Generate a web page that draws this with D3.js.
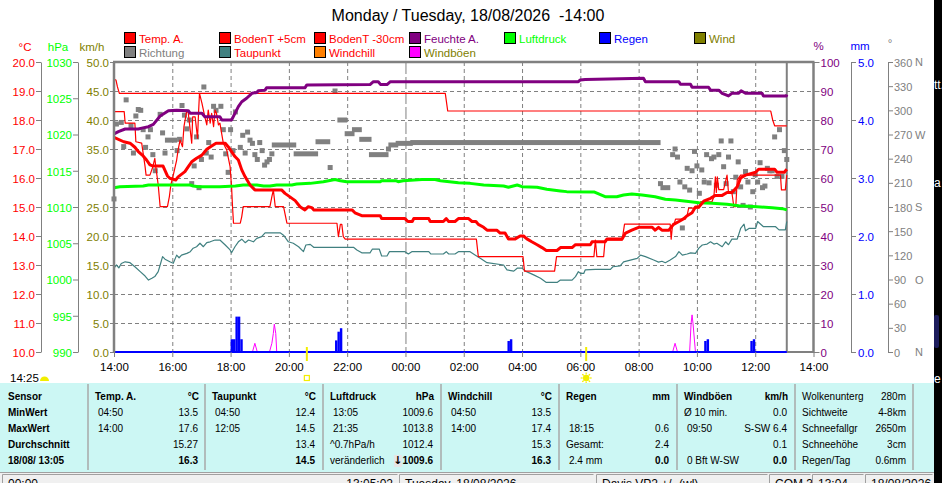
<!DOCTYPE html>
<html><head><meta charset="utf-8">
<script src="https://cdn.jsdelivr.net/npm/d3@7"></script>
<style>
html,body{margin:0;padding:0;background:#fff;overflow:hidden}
svg{display:block}
</style></head><body>
<svg id="c" width="942" height="483"></svg>
<script>
// ---------------- DATA ----------------
const titleText = "Monday / Tuesday, 18/08/2026  -14:00";
const ticksC = [10,11,12,13,14,15,16,17,18,19,20];
const ticksP = [990,995,1000,1005,1010,1015,1020,1025,1030];
const ticksK = [0,5,10,15,20,25,30,35,40,45,50];
const ticksH = [0,10,20,30,40,50,60,70,80,90,100];
const ticksR = [0,1,2,3,4,5];
const ticksD = [0,30,60,90,120,150,180,210,240,270,300,330,360];
const compass = [[0,"N"],[90,"O"],[180,"S"],[270,"W"],[360,"N"]];
const unitsLeft = ["°C","hPa","km/h"];
const unitsRight = ["%","mm","°"];
const legendRow1 = ["Temp. A.","BodenT +5cm","BodenT -30cm","Feuchte A.","Luftdruck","Regen","Wind"];
const legendRow2 = ["Richtung","Taupunkt","Windchill","Windböen"];

const tempA = [["14:00",17.4],["14:20",17.25],["14:33",17.2],["14:43",17.06],["14:50",16.91],["15:00",16.76],["15:07",16.62],["15:14",16.45],["15:21",16.41],["15:41",16.41],["15:50",16.07],["15:55",15.99],["16:07",15.93],["16:12",16.04],["16:26",16.22],["16:33",16.39],["16:40",16.56],["16:50",16.68],["17:01",16.79],["17:11",16.99],["17:21",17.1],["17:30",17.2],["17:49",17.2],["17:55",17.08],["18:02",16.91],["18:09",16.74],["18:16",16.62],["18:23",16.28],["18:30",16.04],["18:40",15.76],["18:50",15.59],["19:45",15.59],["19:52",15.47],["20:13",15.22],["20:23",15.01],["20:33",14.9],["20:40",15.01],["20:47",14.98],["20:51",14.9],["22:10",14.9],["22:16",14.8],["22:30",14.7],["23:08",14.7],["23:11",14.6],["23:59",14.6],["00:05",14.5],["00:14",14.5],["00:17",14.6],["00:48",14.6],["00:51",14.5],["01:18",14.5],["01:24",14.6],["01:29",14.5],["01:42",14.5],["01:49",14.6],["02:10",14.6],["02:17",14.5],["02:25",14.5],["02:30",14.4],["02:41",14.3],["02:48",14.2],["03:08",14.2],["03:15",14.1],["03:25",14.1],["03:32",13.9],["03:46",13.9],["03:56",14.0],["04:03",14.0],["04:10",13.9],["04:20",13.8],["04:31",13.7],["04:41",13.6],["04:50",13.5],["05:12",13.5],["05:19",13.6],["05:43",13.6],["05:50",13.7],["06:21",13.7],["06:24",13.8],["06:51",13.8],["06:55",13.9],["07:26",13.9],["07:33",14.1],["07:46",14.2],["08:00",14.3],["08:28",14.3],["08:34",14.2],["08:41",14.3],["08:48",14.2],["09:02",14.2],["09:12",14.4],["09:23",14.5],["09:33",14.6],["09:40",14.7],["09:50",14.8],["09:57",15.0],["10:04",15.0],["10:14",15.2],["10:28",15.3],["10:38",15.4],["10:52",15.4],["11:02",15.5],["11:12",15.5],["11:23",15.7],["11:30",16.0],["11:40",16.1],["12:01",16.2],["12:07",16.3],["12:40",16.3],["12:45",16.2],["13:00",16.2],["13:05",16.3]];

const bodenT5 = [["14:00",18.29],["14:21",18.29],["14:23",17.89],["14:43",17.89],["14:45",17.25],["14:57",17.2],["15:04",16.39],["15:06",16.1],["15:14",16.1],["15:20",16.39],["15:24",16.68],["15:26",16.39],["15:31",15.76],["15:35",15.01],["15:50",15.01],["15:54",15.36],["15:57",15.76],["16:02",16.1],["16:09",16.62],["16:12",16.97],["16:16",17.31],["16:21",17.08],["16:24",17.77],["16:30",18.34],["16:33",18.23],["16:40",17.2],["16:42",18.11],["16:47",18.11],["16:52",17.37],["16:54",18.23],["16:56",18.92],["17:01",18.58],["17:07",18.11],["17:11",17.83],["17:14",18.34],["17:18",17.89],["17:21",18.23],["17:25",17.77],["17:28",18.34],["17:31",18.23],["17:35",17.83],["17:38",17.89],["17:45",17.2],["17:52",16.97],["17:59",16.39],["18:02",15.7],["18:04",15.01],["18:06",14.44],["18:20",14.44],["18:23",14.67],["18:26",15.01],["19:21",15.01],["19:25",15.36],["19:28",15.59],["19:32",15.01],["19:49",15.01],["19:56",14.44],["21:39",14.44],["21:42",13.98],["21:46",14.4],["21:49",14.4],["21:52",13.98],["21:56",13.89],["02:26",13.89],["02:30",13.29],["04:02",13.29],["04:05",12.79],["05:07",12.79],["05:11",13.29],["06:28",13.29],["06:31",13.86],["06:34",13.29],["06:48",13.29],["06:51",13.86],["07:26",13.86],["07:31",14.41],["09:05",14.41],["09:07",13.89],["09:10",14.41],["09:13",14.41],["09:16",14.58],["09:36",14.58],["09:40",14.72],["09:43",14.96],["10:04",14.96],["10:07",15.18],["10:31",15.18],["10:35",15.36],["10:38",16.04],["10:40",15.5],["10:42",16.04],["10:45",15.6],["10:55",15.6],["11:02",16.1],["11:05",15.5],["11:12",15.5],["11:16",15.01],["11:20",15.01],["11:23",15.93],["11:30",16.1],["12:52",16.1],["12:54",15.59],["13:02",15.59],["13:05",16.1]];

const bodenT30 = [["14:00",19.4],["14:04",19.38],["14:07",19.15],["14:11",18.92],["01:22",18.92],["01:27",18.31],["12:32",18.31],["12:36",18.0],["12:40",17.8],["13:05",17.8]];

const humidity = [["14:00",75.2],["14:09",76.0],["14:23",76.9],["14:50",76.9],["14:57",77.2],["15:11",77.7],["15:21",78.5],["15:35",81.4],["15:52",83.2],["16:09",83.4],["16:33",83.2],["16:37",82.3],["17:01",82.3],["17:07",81.1],["17:38",81.1],["17:42",80.0],["18:02",80.0],["18:09",82.3],["18:16",84.6],["18:23",86.3],["18:33",87.5],["18:44",89.2],["18:54",89.5],["18:57",90.1],["19:11",90.3],["19:14",91.1],["20:33",91.1],["20:37",92.1],["22:47",92.2],["22:54",93.2],["23:04",93.2],["23:09",92.2],["23:22",92.2],["23:29",93.2],["05:56",93.2],["06:00",93.8],["06:10",94.0],["08:10",94.4],["08:14",93.2],["09:23",93.2],["09:26",92.3],["09:47",92.3],["09:50",91.3],["10:24",91.3],["10:28",90.3],["10:45",90.3],["10:52",89.2],["11:05",88.3],["11:12",89.2],["11:26",89.2],["11:31",90.1],["11:40",89.2],["12:14",89.2],["12:17",88.3],["13:04",88.3],["13:05",88.8]];

const pressure = [["14:00",1012.66],["14:12",1012.8],["15:00",1012.9],["15:11",1013.03],["16:37",1013.03],["16:43",1012.9],["16:54",1012.8],["17:38",1012.8],["18:10",1012.9],["18:26",1013.03],["18:54",1013.03],["19:08",1012.9],["19:21",1012.9],["19:35",1013.03],["20:06",1013.03],["20:16",1013.17],["20:44",1013.26],["21:11",1013.49],["21:35",1013.8],["21:46",1013.63],["21:59",1013.49],["23:08",1013.49],["23:11",1013.63],["23:40",1013.63],["23:45",1013.49],["23:55",1013.63],["00:34",1013.8],["01:01",1013.8],["01:12",1013.63],["01:49",1013.36],["02:13",1013.26],["02:41",1013.03],["03:22",1012.9],["03:32",1012.72],["03:42",1012.9],["03:50",1013.03],["04:00",1012.8],["04:31",1012.72],["04:51",1012.44],["05:19",1012.21],["05:32",1012.12],["06:28",1012.07],["06:51",1011.42],["07:15",1011.42],["07:29",1011.66],["07:46",1011.79],["08:07",1011.66],["08:34",1011.42],["08:55",1011.06],["09:16",1010.97],["09:47",1010.73],["10:04",1010.6],["10:31",1010.51],["11:02",1010.37],["11:26",1010.18],["12:04",1010.04],["12:35",1009.91],["12:56",1009.77],["13:05",1009.6]];

const dewPoint = [["14:00",12.89],["14:05",13.0],["14:10",12.9],["14:15",13.05],["14:23",13.11],["14:33",13.08],["14:43",12.94],["14:54",12.77],["15:04",12.62],["15:11",12.48],["15:18",12.54],["15:24",12.6],["15:31",12.77],["15:35",13.0],["15:40",13.29],["15:45",13.2],["15:55",13.11],["16:02",13.06],["16:09",13.34],["16:14",13.25],["16:19",13.34],["16:30",13.4],["16:37",13.46],["16:43",13.58],["16:50",13.63],["16:57",13.75],["17:04",13.63],["17:11",13.77],["17:18",13.8],["17:28",13.86],["17:38",13.86],["17:49",13.69],["17:59",13.52],["18:02",13.42],["18:09",13.63],["18:16",13.8],["18:23",13.89],["18:30",13.77],["18:37",13.86],["18:47",13.8],["18:54",13.92],["19:04",13.98],["19:11",14.11],["19:42",14.11],["19:49",14.03],["19:59",13.8],["20:09",13.75],["20:20",13.63],["20:30",13.46],["20:35",13.69],["20:44",13.71],["20:51",13.61],["22:13",13.61],["22:20",13.52],["22:30",13.42],["22:47",13.42],["22:52",13.55],["23:06",13.55],["23:11",13.31],["23:22",13.31],["23:27",13.46],["23:59",13.46],["00:06",13.38],["00:13",13.46],["00:48",13.46],["00:52",13.38],["01:18",13.38],["01:24",13.46],["01:29",13.38],["01:42",13.38],["01:49",13.46],["02:13",13.46],["02:24",13.34],["02:34",13.23],["02:48",13.08],["03:22",13.0],["03:29",12.83],["03:43",12.79],["03:50",12.89],["04:00",12.89],["04:07",12.79],["04:24",12.66],["04:38",12.54],["04:50",12.4],["05:12",12.4],["05:19",12.48],["05:43",12.48],["05:50",12.6],["05:56",12.77],["06:00",12.71],["06:07",12.71],["06:10",12.83],["06:31",12.85],["07:02",12.85],["07:07",12.94],["07:22",12.97],["07:29",13.11],["07:43",13.17],["07:57",13.23],["08:04",13.34],["08:14",13.29],["08:31",13.17],["08:41",13.1],["08:48",13.13],["08:55",13.08],["09:05",13.17],["09:16",13.29],["09:23",13.46],["09:30",13.34],["09:40",13.38],["09:47",13.42],["09:57",13.4],["10:04",13.58],["10:11",13.69],["10:21",13.72],["10:28",13.8],["10:35",13.72],["10:41",13.75],["10:52",13.63],["10:59",13.8],["11:05",13.7],["11:12",13.89],["11:23",13.89],["11:30",14.26],["11:37",14.41],["11:40",14.18],["11:47",14.26],["12:01",14.26],["12:05",14.5],["12:17",14.32],["12:42",14.32],["12:49",14.21],["13:02",14.21],["13:05",14.5]];

const gusts = [["14:00",0],["18:45",0],["18:50",1.5],["18:55",0],["19:20",0],["19:25",1.5],["19:28",3.2],["19:30",4.8],["19:33",3.2],["19:35",0],["09:10",0],["09:15",1.5],["09:20",0],["09:45",0],["09:48",4.9],["09:50",6.4],["09:52",4.9],["09:57",0],["13:05",0]];

const rain = [["18:00",0.22],["18:05",0.22],["18:10",0.61],["18:15",0.61],["18:20",0.22],["21:35",0.2],["21:40",0.35],["21:45",0.41],["03:30",0.19],["03:35",0.22],["10:15",0.19],["10:20",0.22],["11:50",0.19],["11:55",0.22]];

const windDir = [["14:00",190],["14:05",283],["14:15",285],["14:20",255],["14:25",313],["14:35",281],["14:40",247],["14:45",293],["14:50",301],["14:55",300],["15:00",276],["15:05",254],["15:10",267],["15:15",276],["15:20",245],["15:25",225],["15:35",295],["15:40",272],["15:45",247],["16:10",250],["16:15",264],["16:20",306],["16:25",294],["16:30",277],["16:35",288],["16:40",209],["16:45",231],["16:50",267],["16:55",204],["17:00",239],["17:05",329],["17:10",247],["17:15",260],["17:20",242],["17:25",305],["17:30",300],["17:40",305],["17:45",276],["17:50",246],["17:55",223],["18:00",276],["18:05",250],["18:10",298],["18:20",254],["18:25",269],["18:30",247],["18:35",273],["18:40",263],["18:45",259],["18:50",245],["18:55",239],["19:00",260],["19:05",250],["19:10",232],["19:15",236],["19:20",239],["19:25",246],["21:25",229],["21:35",324],["23:25",252],["08:45",209],["09:10",245],["09:15",252],["09:20",242],["09:25",211],["09:30",154],["09:35",205],["09:40",228],["09:45",201],["09:50",225],["09:55",249],["10:00",231],["10:05",197],["10:10",226],["10:15",211],["10:20",245],["10:25",210],["10:30",240],["10:35",242],["10:40",207],["10:45",245],["10:50",262],["10:55",230],["11:00",209],["11:05",242],["11:10",262],["11:15",199],["11:20",217],["11:25",236],["11:30",205],["11:35",182],["11:40",224],["11:45",211],["11:50",180],["11:55",199],["12:00",220],["12:05",211],["12:10",235],["12:15",204],["12:20",206],["12:25",228],["12:30",225],["12:35",225],["12:40",267],["12:45",218],["12:50",276],["12:55",218],["13:00",250],["13:05",239]];
// runs of constant direction [from, to, degrees]
const windDirRuns = [["15:50","16:05",263],["19:30","20:10",257],["20:15","20:55",246],["21:00","21:20",261],["21:45","21:55",288],["22:00","22:10",271],["22:15","22:25",276],["22:30","22:45",264],["22:50","23:20",245],["23:30","23:40",257],["23:45","00:10",259],["00:15","08:40",260],["08:50","09:00",204]];

const moonTime = "14:25";
const sunsetTime = "20:37";
const sunriseTime = "06:12";

const tblSensor = ["Sensor","MinWert","MaxWert","Durchschnitt","18/08/ 13:05"];
const tblTemp  = [["Temp. A.","°C"],["04:50","13.5"],["14:00","17.6"],["","15.27"],["","16.3"]];
const tblDew   = [["Taupunkt","°C"],["04:50","12.4"],["12:05","14.5"],["","13.4"],["","14.5"]];
const tblPress = [["Luftdruck","hPa"],["13:05","1009.6"],["21:35","1013.8"],["^0.7hPa/h","1012.4"],["veränderlich","↓1009.6"]];
const tblChill = [["Windchill","°C"],["04:50","13.5"],["14:00","17.4"],["","15.3"],["","16.3"]];
const tblRain  = [["Regen","mm"],["",""],["18:15","0.6"],["Gesamt:","2.4"],["2.4 mm","0.0"]];
const tblGust  = [["Windböen","km/h"],["Ø 10 min.","0.0"],["09:50","S-SW 6.4"],["","0.1"],["0 Bft W-SW","0.0"]];
const tblExtra = [["Wolkenunterg","280m"],["Sichtweite","4-8km"],["Schneefallgr","2650m"],["Schneehöhe","3cm"],["Regen/Tag","0.6mm"]];
const statusTexts = [["00:00","13:05:02"],["Tuesday, 18/08/2026",""],["Davis VP2 +/- (wl)",""],["COM 3",""],["13:04",""],["18/08/2026",""]];

// ---------------- DRAWING ----------------
const FONT = "'Liberation Sans', Arial, sans-serif";
const C = {red:"#ff0000", purple:"#800080", green:"#00ff00", blue:"#0000ff", olive:"#808000",
           grey:"#808080", teal:"#408080", orange:"#ff8000", magenta:"#ff00ff"};
const legendStyle1 = [[C.red,C.red],[C.red,C.red],[C.red,C.red],[C.purple,C.purple],[C.green,C.green],[C.blue,C.blue],[C.olive,C.olive]];
const legendStyle2 = [[C.grey,C.grey],[C.teal,C.red],[C.orange,C.red],[C.magenta,C.olive]];

const svg = d3.select("#c");
const L = 114, R = 813.5, T = 62, B = 352;

const parseT = s => { const [h,m] = s.split(":").map(Number); return new Date(2026, 7, h >= 14 ? 17 : 18, h, m); };
const x = d3.scaleTime().domain([new Date(2026,7,17,14,0), new Date(2026,7,18,14,0)]).range([L, R]);
const yC = d3.scaleLinear().domain([10,20]).range([B,T]);
const yP = d3.scaleLinear().domain([990,1030]).range([B,T]);
const yK = d3.scaleLinear().domain([0,50]).range([B,T]);
const yH = d3.scaleLinear().domain([0,100]).range([B,T]);
const yR = d3.scaleLinear().domain([0,5]).range([B,T]);
const yD = d3.scaleLinear().domain([0,360]).range([B,T]);

svg.append("rect").attr("width",942).attr("height",483).attr("fill","#fff");

// gridlines
const grid = svg.append("g");
ticksK.filter(v => v > 0 && v < 50).forEach(v => {
  grid.append("line").attr("x1",L).attr("x2",R).attr("y1",yK(v)+0.5).attr("y2",yK(v)+0.5)
    .attr("stroke",C.grey).attr("stroke-dasharray","4,3");
});
const hourTicks = x.ticks(d3.timeHour.every(2));
hourTicks.slice(1,-1).forEach(d => {
  const mid = d.getHours() === 0;
  grid.append("line").attr("x1",x(d)+0.5).attr("x2",x(d)+0.5).attr("y1",T).attr("y2",B)
    .attr("stroke",C.grey).attr("stroke-dasharray", mid ? "12,3" : "4,3");
});

// current time line
const lastT = parseT(tempA[tempA.length-1][0]);
svg.append("line").attr("x1",x(lastT)).attr("x2",x(lastT)).attr("y1",T).attr("y2",B)
  .attr("stroke",C.grey).attr("stroke-width",2);

// wind direction
const dirG = svg.append("g").attr("fill",C.grey);
dirG.selectAll("rect.p").data(windDir).join("rect").attr("class","p")
  .attr("x", d => x(parseT(d[0])) - 2.5).attr("y", d => yD(d[1]) - 2.5)
  .attr("width",5).attr("height",5);
dirG.selectAll("rect.r").data(windDirRuns).join("rect").attr("class","r")
  .attr("x", d => x(parseT(d[0])) - 2.5).attr("y", d => yD(d[2]) - 2.5)
  .attr("width", d => x(parseT(d[1])) - x(parseT(d[0])) + 5).attr("height",5);

// bottom border (grey) then rain baseline
svg.append("line").attr("x1",L).attr("x2",R).attr("y1",B).attr("y2",B).attr("stroke",C.grey).attr("stroke-width",2);

// gusts
const lineOf = (ys) => d3.line().x(d => x(parseT(d[0]))).y(d => ys(d[1]));
svg.append("path").datum(gusts).attr("d", lineOf(yK)).attr("fill","none").attr("stroke",C.magenta).attr("stroke-width",1);

// rain
svg.append("line").attr("x1",x(parseT(tempA[0][0]))).attr("x2",x(lastT)).attr("y1",B).attr("y2",B)
  .attr("stroke",C.blue).attr("stroke-width",2);
svg.append("g").selectAll("rect").data(rain).join("rect")
  .attr("x", d => x(parseT(d[0])))
  .attr("width", d => x(d3.timeMinute.offset(parseT(d[0]),5)) - x(parseT(d[0])))
  .attr("y", d => yR(d[1])).attr("height", d => B - yR(d[1]))
  .attr("fill",C.blue);

// lines
const drawLine = (data, ys, color, w) => svg.append("path").datum(data).attr("d", lineOf(ys))
  .attr("fill","none").attr("stroke",color).attr("stroke-width",w).attr("stroke-linejoin","round");
drawLine(dewPoint, yC, C.teal, 1.2);
drawLine(bodenT30, yC, C.red, 1.2);
drawLine(bodenT5, yC, C.red, 1.2);
drawLine(pressure, yP, C.green, 3);
drawLine(humidity, yH, C.purple, 3);
drawLine(tempA, yC, C.red, 3);

// plot frame
svg.append("line").attr("x1",L-1).attr("x2",R+1).attr("y1",T).attr("y2",T).attr("stroke",C.grey).attr("stroke-width",2.5);
svg.append("line").attr("x1",L).attr("x2",L).attr("y1",T).attr("y2",B+1).attr("stroke",C.grey).attr("stroke-width",2.5);
svg.append("line").attr("x1",R).attr("x2",R).attr("y1",T).attr("y2",B+1).attr("stroke",C.grey).attr("stroke-width",2.5);

// axes
function styleAxis(g, color, fs){
  g.attr("font-family",FONT).attr("font-size",fs || 11.5);
  g.selectAll(".domain").attr("stroke",C.grey);
  g.selectAll(".tick line").attr("stroke",C.grey);
  g.selectAll(".tick text").attr("fill",color).attr("dy","0.37em");
}
const f1 = d3.format(".1f");
svg.append("g").attr("transform","translate(41,0)")
  .call(d3.axisLeft(yC).tickValues(ticksC).tickFormat(f1).tickSize(5).tickPadding(1).tickSizeOuter(0))
  .call(g => styleAxis(g, C.red));
svg.append("g").attr("transform","translate(78,0)")
  .call(d3.axisLeft(yP).tickValues(ticksP).tickFormat(d3.format("d")).tickSize(5).tickPadding(1).tickSizeOuter(0))
  .call(g => styleAxis(g, C.green));
svg.append("g").attr("transform",`translate(${L},0)`)
  .call(d3.axisLeft(yK).tickValues(ticksK).tickFormat(f1).tickSize(4).tickPadding(1).tickSizeOuter(0))
  .call(g => { styleAxis(g, C.olive); g.select(".domain").remove(); });
svg.append("g").attr("transform",`translate(${R},0)`)
  .call(d3.axisRight(yH).tickValues(ticksH).tickFormat(d3.format("d")).tickSize(6).tickPadding(1).tickSizeOuter(0))
  .call(g => { styleAxis(g, C.purple); g.select(".domain").remove(); });
svg.append("g").attr("transform","translate(851,0)")
  .call(d3.axisRight(yR).tickValues(ticksR).tickFormat(f1).tickSize(5).tickPadding(2).tickSizeOuter(0))
  .call(g => styleAxis(g, C.blue));
svg.append("g").attr("transform","translate(888,0)")
  .call(d3.axisRight(yD).tickValues(ticksD).tickFormat(d3.format("d")).tickSize(5).tickPadding(1).tickSizeOuter(0))
  .call(g => styleAxis(g, C.grey, 11));
svg.append("g").selectAll("text").data(compass).join("text")
  .attr("x",915).attr("y", d => yD(d[0])).attr("dy","0.37em")
  .attr("font-family",FONT).attr("font-size",11).attr("fill",C.grey).text(d => d[1]);

svg.append("g").attr("transform",`translate(0,${B})`)
  .call(d3.axisBottom(x).ticks(d3.timeHour.every(2)).tickFormat(d3.timeFormat("%H:%M")).tickSize(5).tickPadding(6).tickSizeOuter(0))
  .call(g => { g.select(".domain").remove(); g.attr("font-family",FONT).attr("font-size",11.5);
    g.selectAll(".tick line").attr("stroke",C.grey); g.selectAll(".tick text").attr("fill","#000"); });

// units
const unitG = svg.append("g").attr("font-family",FONT).attr("font-size",11.5).attr("text-anchor","middle");
[[25,C.red],[58,C.green],[92,C.olive]].forEach((s,i) => unitG.append("text").attr("x",s[0]).attr("y",51).attr("fill",s[1]).text(unitsLeft[i]));
[[818.5,C.purple,50],[860,C.blue,50],[890,C.grey,47]].forEach((s,i) => unitG.append("text").attr("x",s[0]).attr("y",s[2]).attr("fill",s[1]).text(unitsRight[i]));

// title
svg.append("text").attr("x",468).attr("y",21).attr("text-anchor","middle").attr("font-family",FONT)
  .attr("font-size",16).attr("fill","#000").style("white-space","pre").text(titleText);

// legend
function legendRow(labels, styles, top){
  const g = svg.append("g").attr("font-family",FONT).attr("font-size",11.5);
  labels.forEach((lab,i) => {
    const lx = 124 + i*95;
    g.append("rect").attr("x",lx+0.5).attr("y",top+0.5).attr("width",11).attr("height",11)
      .attr("fill",styles[i][0]).attr("stroke","#000");
    g.append("text").attr("x",lx+15).attr("y",top+10.5).attr("fill",styles[i][1]).text(lab);
  });
}
legendRow(legendRow1, legendStyle1, 32);
legendRow(legendRow2, legendStyle2, 46);

// sun / moon markers
const ySun = "#f2ee00";
[sunsetTime, sunriseTime].forEach(t => {
  svg.append("rect").attr("x",x(parseT(t))-1).attr("y",347).attr("width",2).attr("height",14).attr("fill",ySun);
});
const xs = x(parseT(sunsetTime));
svg.append("rect").attr("x",xs-2.5).attr("y",375.5).attr("width",5).attr("height",5).attr("fill","none").attr("stroke",ySun).attr("stroke-width",1.2);
const xr = x(parseT(sunriseTime));
const sunG = svg.append("g").attr("transform",`translate(${xr},378)`);
sunG.append("circle").attr("r",3.2).attr("fill",ySun);
d3.range(8).forEach(k => { const a = k*Math.PI/4;
  sunG.append("line").attr("x1",Math.cos(a)*3.5).attr("y1",Math.sin(a)*3.5).attr("x2",Math.cos(a)*5.5).attr("y2",Math.sin(a)*5.5)
    .attr("stroke",ySun).attr("stroke-width",1.2); });
svg.append("text").attr("x",10).attr("y",382).attr("font-family",FONT).attr("font-size",11.5).attr("fill","#000").text(moonTime);
svg.append("path").attr("d","M40,381 A4.5,4.5 0 0 1 49,381 Z").attr("fill",ySun);

// ---------------- TABLE ----------------
const TT = 383, TB = 472;
svg.append("rect").attr("x",0).attr("y",TT).attr("width",934).attr("height",TB-TT).attr("fill","#ccf7f4");
const colX = [88,205,323,441,559,677,795,913];
colX.forEach(cx => svg.append("line").attr("x1",cx).attr("x2",cx).attr("y1",TT+1).attr("y2",TB-2)
  .attr("stroke","#a8a8a8").attr("stroke-width",1.5));
const rowY = [400,416,432,448,464];
const TF = "'Liberation Sans', Tahoma, sans-serif";
const tg = svg.append("g").attr("font-family",TF).attr("font-size",10).attr("fill","#000");
tblSensor.forEach((s,i) => tg.append("text").attr("x",8).attr("y",rowY[i]).attr("font-weight","bold").text(s));
[tblTemp, tblDew, tblPress, tblChill, tblRain, tblGust].forEach((col,ci) => {
  const cx = colX[ci];
  col.forEach((cell,ri) => {
    const [lt, rt] = cell;
    const boldL = ri === 0, boldR = ri === 0 || ri === 4;
    if (lt) {
      const ind = ri === 0 ? 7 : (/^\d/.test(lt) ? 10 : 7);
      tg.append("text").attr("x",cx+ind).attr("y",rowY[ri]).attr("font-weight",boldL?"bold":"normal").text(lt);
    }
    if (rt) {
      const re = ri === 0 ? cx+111 : cx+110;
      if (rt.startsWith("↓")) {
        const t = tg.append("text").attr("x",re).attr("y",rowY[ri]).attr("text-anchor","end")
          .attr("font-weight","bold").text(rt.slice(1));
        const w = t.node().getComputedTextLength();
        tg.insert("rect","text").attr("x",re-w-8.5).attr("y",rowY[ri]-9).attr("width",8).attr("height",12).attr("fill","#e6e6e6");
        tg.append("text").attr("x",re-w-4.5).attr("y",rowY[ri]).attr("text-anchor","middle")
          .attr("font-weight","bold").attr("font-family","'DejaVu Sans', sans-serif").attr("font-size",11).text("↓");
      } else {
        tg.append("text").attr("x",re).attr("y",rowY[ri]).attr("text-anchor","end").attr("font-weight",boldR?"bold":"normal").text(rt);
      }
    }
  });
});
tblExtra.forEach((cell,ri) => {
  tg.append("text").attr("x",colX[6]+7).attr("y",rowY[ri]).text(cell[0]);
  tg.append("text").attr("x",colX[7]-7).attr("y",rowY[ri]).attr("text-anchor","end").text(cell[1]);
});

// ---------------- STATUS BAR ----------------
svg.append("rect").attr("x",0).attr("y",TB).attr("width",934).attr("height",483-TB).attr("fill","#f0f0f0");
svg.append("line").attr("x1",0).attr("x2",934).attr("y1",TB+0.5).attr("y2",TB+0.5).attr("stroke","#a0a0a0");
const panels = [[2,397],[399,593],[596,767],[769,810],[812,863],[865,932]];
const sg = svg.append("g").attr("font-family",FONT).attr("font-size",12).attr("fill","#000");
panels.forEach((p,i) => {
  svg.append("path").attr("d",`M${p[0]+0.5},483 V${TB+2.5} H${p[1]+0.5}`).attr("fill","none").attr("stroke","#a0a0a0");
  sg.append("text").attr("x",p[0]+6).attr("y",488).text(statusTexts[i][0]);
  if (statusTexts[i][1]) sg.append("text").attr("x",p[1]-4).attr("y",488).attr("text-anchor","end").text(statusTexts[i][1]);
});

// ---------------- RIGHT EDGE (window behind) ----------------
svg.append("rect").attr("x",934).attr("y",0).attr("width",8).attr("height",483).attr("fill","#000");
svg.append("rect").attr("x",934).attr("y",315).attr("width",5).attr("height",33).attr("rx",2).attr("fill","#1c1c5c");
const eg = svg.append("g").attr("font-family",FONT).attr("font-size",12).attr("fill","#fff");
eg.append("text").attr("x",934).attr("y",89).text("tt.");
eg.append("text").attr("x",934).attr("y",187).text("a");
eg.append("text").attr("x",934).attr("y",383).text("e");
</script>
</body></html>
